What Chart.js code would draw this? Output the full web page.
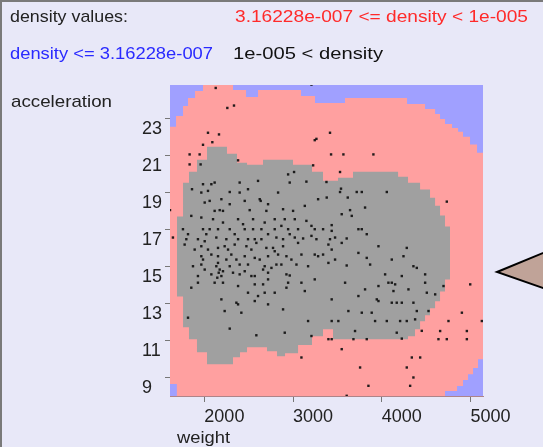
<!DOCTYPE html>
<html>
<head>
<meta charset="utf-8">
<script src="https://cdn.jsdelivr.net/npm/chart.js@4.4.0/dist/chart.umd.min.js"></script>
<style>
  html, body { margin: 0; padding: 0; background: #e8e8f8; }
</style>
</head>
<body>
<canvas id="densityChart" width="543" height="447"></canvas>
<script>
// tick labels
var xTicks = [2000, 3000, 4000, 5000];
var yTicks = [9, 11, 13, 15, 17, 19, 21, 23];

// density < 3.16228e-007 : top band (acceleration above which it is blue), one value per weight step
var blueTopEdges  = [1613, 1681, 1760, 1816, 1895, 1985, 2323, 2470, 2605, 3089, 3247, 3585, 4284, 4487, 4600, 4656, 4712, 4791, 4859, 4915, 4994, 5073, 5140];
var blueTopValues = [22.54, 23.13, 23.67, 24.1, 24.48, 24.8, 24.53, 24.15, 24.53, 24.21, 23.83, 24.1, 23.78, 23.51, 23.24, 22.97, 22.7, 22.48, 22.27, 22.0, 21.58, 21.14, 21.14];

// bottom corners (acceleration below which it is blue)
var blueBottomEdges  = [1613, 1690, 4712, 4848, 4915, 4971, 5028, 5084, 5140];
var blueBottomValues = [8.65, 8, 8.27, 8.54, 8.86, 9.18, 9.51, 9.99, 9.99];

// density > 1e-005 : gray core, top and bottom acceleration per weight step
var grayEdges  = [1692, 1760, 1827, 1917, 2030, 2255, 2323, 2368, 2402, 2481, 2661, 2706, 2819, 2909, 2999, 3056, 3213, 3337, 3450, 3506, 3675, 4183, 4295, 4374, 4431, 4487, 4543, 4600, 4656, 4712, 4769];
var grayTop    = [17.69, 19.52, 20.12, 20.76, 21.46, 21.08, 21.08, 20.6, 20.6, 20.49, 20.76, 20.76, 20.76, 20.76, 20.49, 20.49, 20.12, 19.63, 19.63, 19.79, 20.12, 19.85, 19.52, 19.52, 19.15, 19.15, 18.71, 18.28, 17.75, 17.15, 17.15];
var grayBottom = [13.38, 11.71, 11.07, 10.37, 9.72, 9.72, 10.1, 10.1, 10.37, 10.64, 10.64, 10.42, 10.15, 10.31, 10.31, 10.75, 11.23, 11.61, 11.07, 11.07, 11.07, 11.07, 11.23, 11.61, 12.04, 12.36, 12.74, 13.12, 13.65, 14.3, 14.3];

// the cars: weight, acceleration
var carWeight = [
  2128, 3207, 2259, 2334, 2041, 2165, 2090, 1985, 3263, 3244, 1834, 1947, 1834, 1958, 2380, 3226, 2944, 3011, 2605, 2398,
  1985, 2079, 2962, 3150, 3376, 1861, 1966, 2041, 2286, 2398, 2624, 2635, 3132, 2887, 2060, 1613, 2116, 2173, 2210, 1966,
  2098, 2380, 2511, 2549, 2699, 2793, 2906, 3019, 3000, 1759, 1985, 2060, 2154, 2286, 2549, 2643, 2793, 2944, 3056, 3207,
  3244, 3338, 1646, 1797, 1928, 2135, 2248, 2380, 2492, 2643, 2887, 3019, 3113, 3263,
  3416, 3428, 3567, 3905, 3529, 3540, 3529, 3717, 3774, 4056, 3379, 3616, 4732, 3642, 3661, 3435, 3435, 3774, 3830, 3473, 3604,
  1778, 1966, 2004, 2154, 2229, 2342, 2474, 2586, 2699, 2793, 2887, 3056, 3244, 3338,
  1966, 2079, 2154, 2304, 2455, 2568, 2718, 2831, 2925, 3094, 3282,
  1966, 2135, 2173, 2286, 2398, 2492, 2680, 2812, 3038,
  1928, 2079, 2192, 2323, 2398, 2568, 2718, 2925, 2962,
  1853, 2116, 2210, 2380, 2568, 2662, 2680, 2925, 3132,
  2192, 2361, 2380, 2568, 2718, 2887, 2229, 1816, 2417,
  2286, 2586, 2906, 3169, 3207, 3094,
  3398, 3435, 3548, 3398, 3604, 3830, 3868, 4281, 4244, 4356, 4394, 4488, 4037, 4074, 4112, 4150, 3962, 4131, 3736, 3435,
  3943, 3962, 4112, 4168, 4225, 4356, 4507, 4695, 4601, 3774, 3886, 4394, 4526, 3435, 3510, 4056, 4206, 4281, 4375, 3698,
  4168, 3398, 3435, 3680, 3830, 4225, 4996, 4902, 4751, 4958, 4657, 5127, 4638, 4732, 4958, 3548, 4338, 4432, 3755, 4281,
  4356, 3849, 4319, 3604, 4450,
  1985, 2004, 2154, 2162, 2146, 2210, 2248, 2361, 2455, 2530, 2624, 2662, 2756, 2868, 2981, 2944, 2774, 2530, 2267, 2041,
  1891, 1872, 1928, 2492, 2793, 2605, 2718, 3169, 3244, 3094,
  2004, 2192, 2286, 2455, 2718, 1853, 2210, 2436, 2680, 2868, 3150, 1816, 2022, 2342, 2455, 2718, 2812, 2962, 3207, 2568,
  2116, 2492, 2831, 3282,
  3736, 3548, 3811, 3416,
  3473, 3736, 3962, 4112, 4225, 3586, 3811, 4300, 4488, 3623, 3924
];
var carAcceleration = [
  24.64, 24.82, 23.56, 23.69, 22.22, 22.13, 21.71, 21.57, 21.89, 21.82, 21.05, 21.05, 20.51, 20.51, 20.73, 20.46, 19.97, 20.1, 19.62, 19.53,
  19.44, 19.44, 19.53, 19.58, 19.56, 19.17, 18.99, 19.08, 19.02, 18.99, 18.63, 18.54, 18.27, 18.09, 18.54, 18.04, 18.0, 18.04, 18.0, 17.64,
  17.55, 17.55, 18.04, 17.55, 18.0, 17.55, 17.55, 17.55, 18.0, 17.01, 17.01, 17.01, 17.01, 17.01, 17.01, 17.01, 17.01, 17.01, 17.01, 17.19,
  17.01, 17.01, 16.56, 16.47, 16.47, 16.56, 16.47, 16.47, 16.47, 16.47, 16.47, 16.56, 16.51, 16.47,
  22.22, 21.05, 21.05, 21.05, 20.1, 19.2, 19.02, 19.02, 19.02, 19.02, 18.72, 18.72, 18.5, 18.04, 17.73, 17.23, 16.92, 17.01, 16.74, 16.56, 16.51,
  16.18, 16.09, 16.36, 16.0, 16.09, 16.18, 16.09, 16.27, 16.0, 15.82, 16.09, 16.27, 15.64, 15.64,
  15.55, 15.64, 15.55, 15.64, 15.55, 15.46, 15.55, 15.64, 15.55, 15.64, 15.55,
  15.1, 15.01, 14.83, 15.01, 15.1, 15.1, 15.01, 15.1, 15.1,
  14.48, 14.57, 14.48, 14.66, 14.57, 14.48, 14.66, 14.57, 14.51,
  13.85, 14.12, 14.12, 13.94, 14.03, 14.03, 13.58, 13.85, 13.67,
  13.22, 13.04, 12.95, 13.13, 12.95, 12.68, 12.59, 12.23, 12.5,
  11.64, 11.28, 11.42, 12.05, 11.24, 10.08,
  16.18, 15.91, 16.27, 15.19, 15.05, 15.46, 15.1, 16.0, 15.55, 15.01, 14.92, 14.57, 14.57, 14.12, 14.12, 14.03, 13.94, 13.67, 13.4, 13.22,
  13.22, 13.13, 13.04, 13.04, 13.04, 13.04, 13.58, 13.94, 13.49, 12.5, 12.5, 12.59, 12.59, 12.05, 12.05, 12.05, 12.05, 12.05, 12.14, 11.51,
  11.42, 11.07, 11.07, 11.07, 11.07, 11.1, 14.03, 12.5, 12.05, 11.51, 11.51, 12.05, 11.07, 11.07, 11.07, 10.53, 10.08, 10.08, 9.54, 9.54,
  9.0, 8.55, 8.55, 8.01, 11.52,
  15.37, 14.83, 15.19, 14.66, 14.39, 14.74, 15.37, 15.37, 14.74, 14.48, 15.37, 14.83, 14.92, 15.1, 15.37, 14.12, 16.0, 15.91, 15.91, 15.91,
  15.91, 15.01, 14.12, 13.58, 13.58, 13.4, 14.3, 15.01, 14.3, 14.12,
  18.45, 18.63, 18.36, 18.54, 18.36, 17.73, 17.37, 17.28, 17.37, 17.19, 17.46, 16.74, 16.74, 16.74, 17.01, 16.74, 16.56, 16.74, 16.65, 16.47,
  19.53, 19.17, 18.99, 18.63,
  17.01, 17.82, 18.18, 16.47,
  15.37, 15.73, 16.09, 15.37, 14.48, 14.12, 13.76, 13.76, 14.12, 12.59, 12.05
];

var BLUE = '#a0a0ff';
var PINK = '#ffa0a0';
var GRAY = '#a0a0a0';
var FONT = '"Liberation Sans", Arial, sans-serif';

function toPoints(xs, ys) {
  return xs.map(function (x, i) { return { x: x, y: ys[i] }; });
}

// a stepped boundary filled towards the top ('end') or the bottom ('start') of the plot
function band(label, xs, ys, fill, color, order) {
  return {
    type: 'line',
    label: label,
    data: toPoints(xs, ys),
    stepped: true,
    fill: fill,
    backgroundColor: color,
    borderColor: 'rgba(0,0,0,0)',
    borderWidth: 1,
    pointRadius: 0,
    order: order
  };
}

// text squeezed or stretched to the width it has in the picture
function fitText(c, text, x, y, width) {
  var w = c.measureText(text).width;
  c.save();
  c.translate(x, y);
  c.scale(width / w, 1);
  c.fillText(text, 0, 0);
  c.restore();
}

// page background, frame, texts and the little pointer on the right
var decor = {
  id: 'decor',
  beforeDraw: function (chart) {
    var c = chart.ctx;
    c.save();
    c.fillStyle = '#e8e8f8';
    c.fillRect(0, 0, chart.width, chart.height);
    c.fillStyle = '#7a7a7a';
    c.fillRect(0, 0, chart.width, 2);
    c.fillRect(0, 0, 2, chart.height);
    c.restore();
  },
  beforeDatasetsDraw: function (chart) {
    var a = chart.chartArea;
    chart.ctx.save();
    chart.ctx.fillStyle = PINK;
    chart.ctx.fillRect(a.left, a.top, a.right - a.left, a.bottom - a.top);
    chart.ctx.restore();
  },
  afterDraw: function (chart) {
    var c = chart.ctx;
    c.save();
    c.font = '17px ' + FONT;
    c.textBaseline = 'alphabetic';
    c.fillStyle = '#222';
    fitText(c, 'density values:', 10, 22, 118);
    c.fillStyle = '#ff2a2a';
    fitText(c, '3.16228e-007 <= density < 1e-005', 235, 22, 293);
    c.fillStyle = '#2a2aff';
    fitText(c, 'density <= 3.16228e-007', 10, 59, 203);
    c.fillStyle = '#111';
    fitText(c, '1e-005 < density', 233, 59, 150);
    c.fillStyle = '#222';
    fitText(c, 'acceleration', 11, 107, 101);
    fitText(c, 'weight', 177, 443, 53);

    c.beginPath();
    c.moveTo(497, 272);
    c.lineTo(560, 246);
    c.lineTo(560, 294);
    c.closePath();
    c.fillStyle = '#c0a398';
    c.fill();
    c.lineWidth = 2;
    c.strokeStyle = '#000';
    c.stroke();
    c.restore();
  }
};

var ctx = document.getElementById('densityChart');
new Chart(ctx, {
  type: 'scatter',
  data: {
    datasets: [
      band('blue top', blueTopEdges, blueTopValues, 'end', BLUE, 6),
      band('gray core', grayEdges, grayTop, 'start', GRAY, 5),
      band('below gray core', grayEdges, grayBottom, 'start', PINK, 4),
      band('blue bottom', blueBottomEdges, blueBottomValues, 'start', BLUE, 3),
      {
        type: 'scatter',
        label: 'cars',
        data: toPoints(carWeight, carAcceleration),
        pointStyle: 'rect',
        pointRadius: 1.7,
        borderWidth: 0,
        backgroundColor: 'rgba(15,15,15,0.92)',
        order: 1
      }
    ]
  },
  options: {
    responsive: false,
    animation: false,
    events: [],
    layout: { padding: { left: 142, right: 60, top: 85, bottom: 0 } },
    plugins: {
      legend: { display: false },
      tooltip: { enabled: false }
    },
    scales: {
      x: {
        type: 'linear',
        min: 1613,
        max: 5140,
        afterBuildTicks: function (s) { s.ticks = xTicks.map(function (v) { return { value: v }; }); },
        afterFit: function (s) { s.height = 51; },
        grid: { drawOnChartArea: false, drawTicks: true, tickLength: 6, color: '#777' },
        border: { display: true, color: 'rgba(150,90,90,0.7)' },
        ticks: {
          align: 'start', padding: 4, color: '#222', font: { family: FONT, size: 18 },
          callback: function (v) { return String(v); }
        }
      },
      y: {
        min: 8,
        max: 24.8,
        afterBuildTicks: function (s) { s.ticks = yTicks.map(function (v) { return { value: v }; }); },
        afterFit: function (s) { s.width = 28; },
        grid: { drawOnChartArea: false, drawTicks: true, tickLength: 5, color: '#777' },
        border: { display: false },
        ticks: {
          crossAlign: 'far', labelOffset: 11, color: '#222', font: { family: FONT, size: 18 },
          callback: function (v) { return String(v); }
        }
      }
    }
  },
  plugins: [decor]
});
</script>
</body>
</html>
